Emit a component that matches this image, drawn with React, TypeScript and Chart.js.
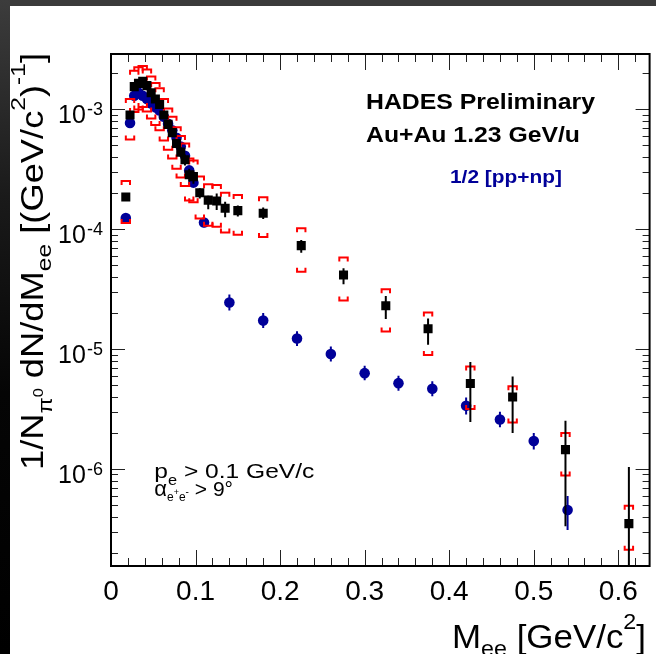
import React, { useEffect, useRef } from "react";
import { Chart, registerables } from "chart.js";

Chart.register(...registerables);

const FONT = '"Liberation Sans", Arial, Helvetica, sans-serif';

// ---- HADES Au+Au data (black squares) ----
const dataMass = [0.0175, 0.0225, 0.0275, 0.0325, 0.0375, 0.0425, 0.0475, 0.0525, 0.0575, 0.0625, 0.0675, 0.0725, 0.0775, 0.0825, 0.0875, 0.0925, 0.0975, 0.105, 0.115, 0.125, 0.135, 0.15, 0.18, 0.225, 0.275, 0.325, 0.375, 0.425, 0.475, 0.5375, 0.6125];
const dataYield = [1.86e-4, 9.0e-4, 1.55e-3, 1.65e-3, 1.72e-3, 1.58e-3, 1.38e-3, 1.22e-3, 1.1e-3, 9.0e-4, 7.5e-4, 6.4e-4, 5.2e-4, 4.4e-4, 3.8e-4, 2.85e-4, 2.75e-4, 2.02e-4, 1.75e-4, 1.72e-4, 1.5e-4, 1.43e-4, 1.36e-4, 7.3e-5, 4.16e-5, 2.3e-5, 1.48e-5, 5.17e-6, 3.98e-6, 1.45e-6, 3.5e-7];
const dataStatHi = [1.95e-4, 9.4e-4, 1.61e-3, 1.71e-3, 1.78e-3, 1.64e-3, 1.44e-3, 1.28e-3, 1.16e-3, 9.5e-4, 8.0e-4, 6.9e-4, 5.6e-4, 4.8e-4, 4.2e-4, 3.2e-4, 3.1e-4, 2.2e-4, 1.9e-4, 1.99e-4, 1.7e-4, 1.58e-4, 1.52e-4, 8.15e-5, 4.73e-5, 2.78e-5, 1.8e-5, 7.8e-6, 5.92e-6, 2.52e-6, 1.04e-6];
const dataStatLo = [1.77e-4, 8.6e-4, 1.49e-3, 1.59e-3, 1.66e-3, 1.52e-3, 1.32e-3, 1.16e-3, 1.04e-3, 8.5e-4, 7.0e-4, 5.9e-4, 4.8e-4, 4.0e-4, 3.4e-4, 2.5e-4, 2.4e-4, 1.81e-4, 1.47e-4, 1.45e-4, 1.26e-4, 1.28e-4, 1.22e-4, 6.38e-5, 3.48e-5, 1.78e-5, 1.09e-5, 2.46e-6, 2.0e-6, 3.32e-7, 1.0e-7];
const dataSysHi = [2.53e-4, 1.22e-3, 2.1e-3, 2.25e-3, 2.3e-3, 2.15e-3, 1.88e-3, 1.66e-3, 1.5e-3, 1.22e-3, 1.02e-3, 8.7e-4, 7.1e-4, 6.0e-4, 5.2e-4, 3.9e-4, 3.75e-4, 2.75e-4, 2.38e-4, 2.34e-4, 2.02e-4, 1.93e-4, 1.85e-4, 1.02e-4, 5.8e-5, 3.16e-5, 2.02e-5, 7.16e-6, 4.9e-6, 2.0e-6, 4.94e-7];
const dataSysLo = [1.13e-4, 5.6e-4, 9.5e-4, 1.0e-3, 1.05e-3, 9.6e-4, 8.4e-4, 7.4e-4, 6.7e-4, 5.5e-4, 4.6e-4, 3.9e-4, 3.2e-4, 2.7e-4, 2.3e-4, 1.74e-4, 1.68e-4, 1.23e-4, 1.07e-4, 1.05e-4, 9.4e-5, 9.0e-5, 8.6e-5, 4.43e-5, 2.54e-5, 1.4e-5, 8.95e-6, 3.16e-6, 2.44e-6, 8.8e-7, 2.12e-7];

// ---- 1/2 [pp+np] reference (blue circles) ----
const refMass = [0.0175, 0.0225, 0.0275, 0.0325, 0.0375, 0.0425, 0.0475, 0.0525, 0.0575, 0.0625, 0.0675, 0.0725, 0.0775, 0.0825, 0.0875, 0.0925, 0.0975, 0.11, 0.14, 0.18, 0.22, 0.26, 0.3, 0.34, 0.38, 0.42, 0.46, 0.5, 0.54];
const refYield = [1.24e-4, 7.7e-4, 1.3e-3, 1.38e-3, 1.3e-3, 1.22e-3, 1.12e-3, 1.04e-3, 9.8e-4, 8.7e-4, 7.6e-4, 6.7e-4, 5.8e-4, 4.9e-4, 4.1e-4, 3.1e-4, 2.45e-4, 1.14e-4, 2.45e-5, 1.73e-5, 1.225e-5, 9.1e-6, 6.3e-6, 5.2e-6, 4.67e-6, 3.37e-6, 2.59e-6, 1.71e-6, 4.55e-7];
const refErrHi = [1.32e-4, 8.1e-4, 1.36e-3, 1.44e-3, 1.36e-3, 1.28e-3, 1.17e-3, 1.09e-3, 1.03e-3, 9.1e-4, 8.0e-4, 7.0e-4, 6.1e-4, 5.2e-4, 4.35e-4, 3.3e-4, 2.6e-4, 1.25e-4, 2.85e-5, 2.0e-5, 1.41e-5, 1.05e-5, 7.25e-6, 6.0e-6, 5.4e-6, 3.95e-6, 3.0e-6, 2.0e-6, 5.95e-7];
const refErrLo = [1.16e-4, 7.3e-4, 1.24e-3, 1.32e-3, 1.24e-3, 1.16e-3, 1.07e-3, 9.9e-4, 9.3e-4, 8.3e-4, 7.2e-4, 6.4e-4, 5.5e-4, 4.6e-4, 3.85e-4, 2.9e-4, 2.3e-4, 1.04e-4, 2.1e-5, 1.5e-5, 1.06e-5, 7.9e-6, 5.5e-6, 4.5e-6, 4.05e-6, 2.85e-6, 2.23e-6, 1.45e-6, 3.1e-7];

// ---- axes ----
const X_MIN = 0;
const X_MAX = 0.637;
const Y_MIN = 1.55e-7;
const Y_MAX = 2.9e-3;
const xTickValues = [0, 0.1, 0.2, 0.3, 0.4, 0.5, 0.6];
const xTickLabels = ["0", "0.1", "0.2", "0.3", "0.4", "0.5", "0.6"];
const yDecadeExps = [-3, -4, -5, -6];

const BLUE = "#000099";
const RED = "#ff0000";

type Seg = { t: string; size: number; dy?: number; bold?: boolean };

function setFont(ctx: CanvasRenderingContext2D, s: Seg) {
  ctx.font = `${s.bold ? "bold " : ""}${s.size}px ${FONT}`;
}

function segsWidth(ctx: CanvasRenderingContext2D, segs: Seg[]) {
  let w = 0;
  for (const s of segs) {
    setFont(ctx, s);
    w += ctx.measureText(s.t).width;
  }
  return w;
}

function drawSegs(
  ctx: CanvasRenderingContext2D,
  segs: Seg[],
  x: number,
  y: number,
  color: string,
  targetWidth?: number,
  align: "left" | "center" | "right" = "left"
) {
  const w = segsWidth(ctx, segs);
  const sx = targetWidth ? targetWidth / w : 1;
  ctx.save();
  ctx.translate(x, y);
  ctx.scale(sx, 1);
  ctx.fillStyle = color;
  ctx.textBaseline = "alphabetic";
  ctx.textAlign = "left";
  let cx = align === "center" ? -w / 2 : align === "right" ? -w : 0;
  for (const s of segs) {
    setFont(ctx, s);
    ctx.fillText(s.t, cx, s.dy || 0);
    cx += ctx.measureText(s.t).width;
  }
  ctx.restore();
}

const hadesPlugin = {
  id: "hadesDecor",
  beforeDraw(chart: any) {
    const ctx: CanvasRenderingContext2D = chart.ctx;
    const W = chart.width;
    const H = chart.height;
    ctx.save();
    ctx.fillStyle = "#ffffff";
    ctx.fillRect(0, 0, W, H);
    // dark window border (top and left)
    ctx.fillStyle = "#3b3b3b";
    ctx.fillRect(0, 0, W, 6);
    const g = ctx.createLinearGradient(0, 0, 0, H);
    g.addColorStop(0, "#3c3c3c");
    g.addColorStop(0.3, "#1a1a1a");
    g.addColorStop(0.6, "#050505");
    g.addColorStop(1, "#000000");
    ctx.fillStyle = g;
    ctx.fillRect(0, 0, 10, H);
    ctx.restore();
  },
  beforeDatasetDraw(chart: any, args: any) {
    const ctx: CanvasRenderingContext2D = chart.ctx;
    const xs = chart.scales.x;
    const ys = chart.scales.y;
    const a = chart.chartArea;
    ctx.save();
    ctx.beginPath();
    ctx.rect(a.left, a.top, a.right - a.left, a.bottom - a.top);
    ctx.clip();
    if (args.index === 1) {
      // blue stat bars
      ctx.strokeStyle = BLUE;
      ctx.lineWidth = 2;
      for (let i = 0; i < refMass.length; i++) {
        const px = xs.getPixelForValue(refMass[i]);
        ctx.beginPath();
        ctx.moveTo(px, ys.getPixelForValue(refErrHi[i]));
        ctx.lineTo(px, ys.getPixelForValue(refErrLo[i]));
        ctx.stroke();
      }
    } else if (args.index === 0) {
      // red systematic brackets
      ctx.strokeStyle = RED;
      ctx.lineWidth = 2;
      const hw = 4.2;
      const leg = 4;
      for (let i = 0; i < dataMass.length; i++) {
        const px = xs.getPixelForValue(dataMass[i]);
        const t = ys.getPixelForValue(dataSysHi[i]);
        const b = ys.getPixelForValue(dataSysLo[i]);
        ctx.beginPath();
        ctx.moveTo(px - hw, t + leg);
        ctx.lineTo(px - hw, t);
        ctx.lineTo(px + hw, t);
        ctx.lineTo(px + hw, t + leg);
        ctx.stroke();
        ctx.beginPath();
        ctx.moveTo(px - hw, b - leg);
        ctx.lineTo(px - hw, b);
        ctx.lineTo(px + hw, b);
        ctx.lineTo(px + hw, b - leg);
        ctx.stroke();
      }
      // black stat bars
      ctx.strokeStyle = "#000000";
      ctx.lineWidth = 2;
      for (let i = 0; i < dataMass.length; i++) {
        const px = xs.getPixelForValue(dataMass[i]);
        ctx.beginPath();
        ctx.moveTo(px, ys.getPixelForValue(dataStatHi[i]));
        ctx.lineTo(px, ys.getPixelForValue(dataStatLo[i]));
        ctx.stroke();
      }
    }
    ctx.restore();
  },
  afterDraw(chart: any) {
    const ctx: CanvasRenderingContext2D = chart.ctx;
    const xs = chart.scales.x;
    const ys = chart.scales.y;
    const { left, right, top, bottom } = chart.chartArea;
    ctx.save();
    // ticks
    ctx.strokeStyle = "#222222";
    ctx.lineWidth = 1;
    for (let i = 0; i <= 40; i++) {
      const v = i * 0.02;
      if (v > X_MAX) break;
      const px = Math.round(xs.getPixelForValue(v)) + 0.5;
      const len = i % 5 === 0 ? 16 : 8;
      ctx.beginPath();
      ctx.moveTo(px, bottom);
      ctx.lineTo(px, bottom - len);
      ctx.moveTo(px, top);
      ctx.lineTo(px, top + len);
      ctx.stroke();
    }
    for (let e = -8; e <= -2; e++) {
      for (let m = 1; m <= 9; m++) {
        const v = m * Math.pow(10, e);
        if (v < Y_MIN || v > Y_MAX) continue;
        const py = Math.round(ys.getPixelForValue(v)) + 0.5;
        const len = m === 1 ? 14 : 7;
        ctx.beginPath();
        ctx.moveTo(left, py);
        ctx.lineTo(left + len, py);
        ctx.moveTo(right, py);
        ctx.lineTo(right - len, py);
        ctx.stroke();
      }
    }
    // frame
    ctx.strokeStyle = "#000000";
    ctx.lineWidth = 2;
    ctx.strokeRect(left, top, right - left, bottom - top);

    // x tick labels
    for (let i = 0; i < xTickValues.length; i++) {
      const px = xs.getPixelForValue(xTickValues[i]);
      drawSegs(ctx, [{ t: xTickLabels[i], size: 28 }], px, 600, "#000", undefined, "center");
    }
    // y tick labels
    for (const e of yDecadeExps) {
      const py = ys.getPixelForValue(Math.pow(10, e));
      drawSegs(
        ctx,
        [
          { t: "10", size: 25 },
          { t: " ", size: 4 },
          { t: String(e), size: 18, dy: -8 },
        ],
        103,
        py + 14,
        "#000",
        undefined,
        "right"
      );
    }

    // x title
    drawSegs(
      ctx,
      [
        { t: "M", size: 33 },
        { t: "ee", size: 22, dy: 8 },
        { t: " [GeV/c", size: 33 },
        { t: "2", size: 22, dy: -19 },
        { t: "]", size: 33 },
      ],
      452,
      648,
      "#000",
      194
    );

    // y title (rotated)
    ctx.save();
    ctx.translate(43, 470);
    ctx.rotate(-Math.PI / 2);
    drawSegs(
      ctx,
      [
        { t: "1/N", size: 31 },
        { t: "π", size: 20, dy: 9 },
        { t: "0", size: 14, dy: 0 },
        { t: " dN/dM", size: 31 },
        { t: "ee", size: 21, dy: 8 },
        { t: " [(GeV/c", size: 31 },
        { t: "2", size: 21, dy: -18 },
        { t: ")", size: 31 },
        { t: "-1", size: 21, dy: -18 },
        { t: "]", size: 31 },
      ],
      0,
      0,
      "#000",
      417
    );
    ctx.restore();

    // annotations
    drawSegs(ctx, [{ t: "HADES Preliminary", size: 22, bold: true }], 366, 108.5, "#000", 229);
    drawSegs(ctx, [{ t: "Au+Au 1.23 GeV/u", size: 22, bold: true }], 366, 141.5, "#000", 214);
    drawSegs(ctx, [{ t: "1/2 [pp+np]", size: 18, bold: true }], 450, 182.5, BLUE, 112);

    drawSegs(
      ctx,
      [
        { t: "p", size: 21 },
        { t: "e", size: 14, dy: 7 },
        { t: " > 0.1 GeV/c", size: 21 },
      ],
      154.3,
      478,
      "#000",
      160
    );
    drawSegs(
      ctx,
      [
        { t: "α", size: 22 },
        { t: "e", size: 12, dy: 5 },
        { t: "+", size: 9, dy: -1 },
        { t: "e", size: 12, dy: 5 },
        { t: "-", size: 10, dy: -1 },
        { t: " > 9°", size: 21 },
      ],
      154.3,
      496,
      "#000"
    );
    ctx.restore();
  },
};

export default function App() {
  const ref = useRef<HTMLCanvasElement>(null);
  useEffect(() => {
    if (!ref.current) return;
    const chart = new Chart(ref.current, {
      type: "scatter",
      data: {
        datasets: [
          {
            label: "HADES Au+Au",
            data: dataMass.map((m, i) => ({ x: m, y: dataYield[i] })),
            pointStyle: "rect",
            pointRadius: 6.4,
            pointHoverRadius: 6.4,
            backgroundColor: "#000000",
            borderWidth: 0,
            showLine: false,
          },
          {
            label: "1/2 [pp+np]",
            data: refMass.map((m, i) => ({ x: m, y: refYield[i] })),
            pointStyle: "circle",
            pointRadius: 5.3,
            pointHoverRadius: 5.3,
            backgroundColor: BLUE,
            borderWidth: 0,
            showLine: false,
          },
        ],
      },
      options: {
        responsive: false,
        animation: false,
        devicePixelRatio: 1,
        events: [],
        layout: { padding: { left: 111, top: 54, right: 4, bottom: 88 } },
        plugins: { legend: { display: false }, tooltip: { enabled: false } },
        scales: {
          x: { type: "linear", min: X_MIN, max: X_MAX, display: false },
          y: { type: "logarithmic", min: Y_MIN, max: Y_MAX, display: false },
        },
      },
      plugins: [hadesPlugin],
    } as any);
    return () => chart.destroy();
  }, []);
  return (
    <div style={{ position: "fixed", left: 0, top: 0, width: 656, height: 654, background: "#fff" }}>
      <canvas ref={ref} width={656} height={654} style={{ display: "block", width: 656, height: 654 }} />
    </div>
  );
}
